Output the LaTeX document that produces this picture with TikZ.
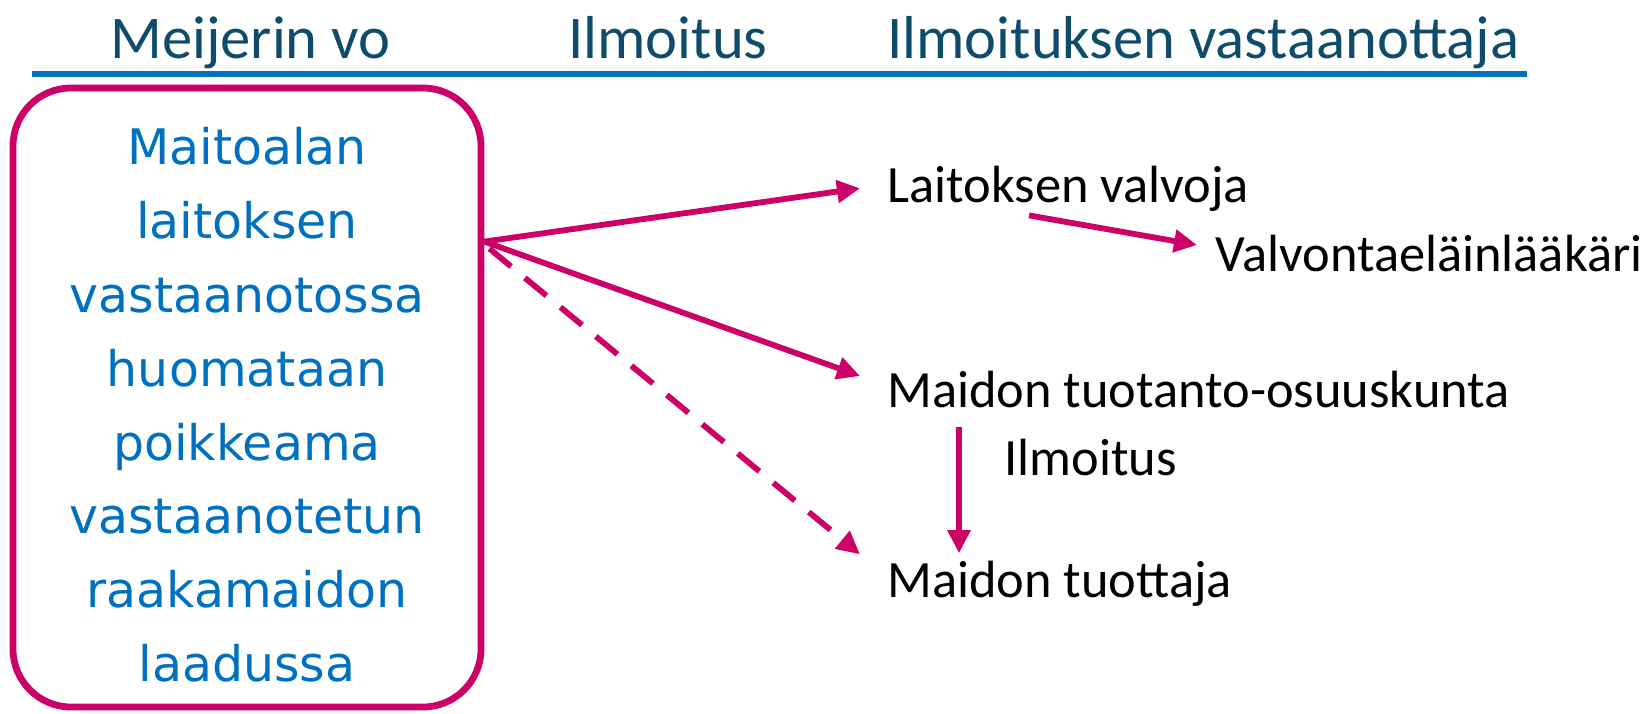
\documentclass[tikz,border=0pt]{standalone}
\usepackage{fontspec}
\setmainfont{Carlito}
\newfontfamily\boxfont{DejaVu Sans}
\usetikzlibrary{arrows.meta,calc}
\definecolor{mag}{HTML}{CC0066}
\definecolor{lineblue}{HTML}{0070C0}
\definecolor{hdrc}{HTML}{0F4C6B}
\begin{document}
\begin{tikzpicture}[x=0.5pt,y=-0.5pt,
  hdr/.style={inner sep=0pt, anchor=base west, text=hdrc, font=\fontsize{30.3}{36}\selectfont},
  lbl/.style={inner sep=0pt, anchor=base west, font=\fontsize{26.2}{31}\selectfont},
  arr/.style={draw=mag, line width=2.9pt, -{Triangle[length=11.5pt,width=11pt]}},
  dashline/.style={dash pattern=on 14pt off 9pt},
]
\useasboundingbox (0,0) rectangle (1649,713);
% headers
\node[hdr] (h1) at (110,58) {Meijerin vo};
\node[hdr] (h2) at (568,58) {Ilmoitus};
\node[hdr] (h3) at (887,58) {Ilmoituksen vastaanottaja};
\coordinate (ls) at (32,74);
\coordinate (le) at (1527,74);
\draw[draw=lineblue, line width=3.2pt] (ls) -- (le);
% box
\node[draw=mag, line width=3.4pt, rounded corners=29pt, minimum width=234pt, minimum height=309.5pt, inner sep=0pt] (box) at (247,397.5) {};
\node[text=lineblue, font=\boxfont\fontsize{24.5}{36.9}\selectfont, align=center, inner sep=0pt] (txt) at (247,405)
  {Maitoalan\\laitoksen\\vastaanotossa\\huomataan\\poikkeama\\vastaanotetun\\raakamaidon\\laadussa};
% labels
\node[lbl] (lv) at (887,202) {Laitoksen valvoja};
\node[lbl] (vet) at (1215,271) {Valvontaeläinlääkäri};
\node[lbl] (mtk) at (887,407) {Maidon tuotanto-osuuskunta};
\node[lbl] (il) at (1004,475) {Ilmoitus};
\node[lbl] (mt) at (887,597) {Maidon tuottaja};
% connectors
\coordinate (src) at ($(box.north east)+(0,157)$);
\draw[arr] (src) -- ($(lv.west)+(-27,0)$);
\draw[arr] (src) -- ($(mtk.west)+(-27,-13)$);
\draw[arr, dashline] ($(src)+(5,7)$) -- ($(mt.west)+(-27,-29)$);
\draw[arr] ($(lv.south west)+(142,4)$) -- ($(vet.west)+(-18,-8)$);
\draw[arr] ($(mtk.south west)+(72,19)$) -- ($(mt.north west)+(72,-7)$);
\end{tikzpicture}
\end{document}
